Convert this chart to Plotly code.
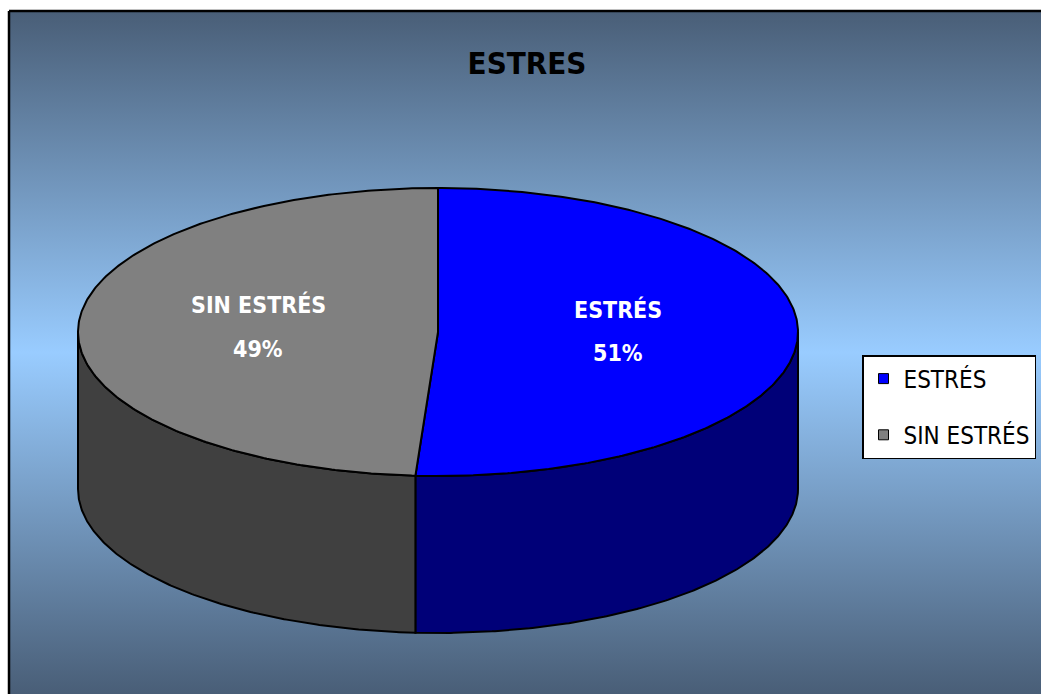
import numpy as np
import plotly.graph_objects as go

# Survey split
categories = ["ESTRÉS", "SIN ESTRÉS"]
values = [51, 49]
top_colors = ["#0000ff", "#808080"]
side_colors = ["#000078", "#404040"]
title_text = "ESTRES"

W, H = 1041, 694
FONT = "DejaVu Sans Condensed, Liberation Sans, sans-serif"

# 3D pie geometry (pixel space)
cx, cy = 438.0, 332.0
rx, ry = 360.0, 144.0
depth = 157.0


def rim(theta_deg, dy=0.0):
    t = np.radians(theta_deg)
    return cx + rx * np.sin(t), cy - ry * np.cos(t) + dy


fig = go.Figure()

# chart-area background with vertical gradient
fig.add_trace(go.Scatter(
    x=[9, 1050, 1050, 9, 9], y=[11, 11, 710, 710, 11],
    mode="lines", fill="toself",
    fillgradient=dict(type="vertical", start=11, stop=694,
                      colorscale=[[0, "#495e77"], [0.5, "#99ccff"], [1, "#495e77"]]),
    line=dict(color="black", width=2.5),
    hoverinfo="skip", showlegend=False,
))

total = float(sum(values))
bounds = np.concatenate([[0.0], np.cumsum(values) / total * 360.0])

# side walls (only the front half, 90..270 deg, is visible)
for i in range(len(values)):
    a0, a1 = max(bounds[i], 90.0), min(bounds[i + 1], 270.0)
    if a1 <= a0:
        continue
    th = np.linspace(a0, a1, 200)
    xt, yt = rim(th)
    xb, yb = rim(th[::-1], depth)
    fig.add_trace(go.Scatter(
        x=np.concatenate([xt, xb, xt[:1]]), y=np.concatenate([yt, yb, yt[:1]]),
        mode="lines", fill="toself", fillcolor=side_colors[i],
        line=dict(color="black", width=2),
        hoverinfo="skip", showlegend=False,
    ))

# top faces
for i in range(len(values)):
    th = np.linspace(bounds[i], bounds[i + 1], 300)
    xa, ya = rim(th)
    fig.add_trace(go.Scatter(
        x=np.concatenate([[cx], xa, [cx]]), y=np.concatenate([[cy], ya, [cy]]),
        mode="lines", fill="toself", fillcolor=top_colors[i],
        line=dict(color="black", width=2),
        hoverinfo="skip", showlegend=False,
    ))

# slice labels at half radius on the mid angle
for i, (name, v) in enumerate(zip(categories, values)):
    mid = (bounds[i] + bounds[i + 1]) / 2.0
    t = np.radians(mid)
    lx = cx + 0.5 * rx * np.sin(t)
    ly = cy - 0.5 * ry * np.cos(t)
    pct = round(v / total * 100)
    for txt, off in ((name, -25), (f"{pct}%", 19)):
        fig.add_annotation(
            x=lx, y=ly + off, text=txt, showarrow=False,
            xanchor="center", yanchor="middle",
            font=dict(family=FONT, size=23, color="white", weight="bold"),
        )

# legend entries
for i, name in enumerate(categories):
    fig.add_trace(go.Scatter(
        x=[None], y=[None], mode="markers", name=name, legendgroup=name,
        marker=dict(symbol="square", size=10, color=top_colors[i],
                    line=dict(color="black", width=1)),
    ))

fig.update_layout(
    width=W, height=H,
    margin=dict(l=0, r=0, t=0, b=0, autoexpand=False),
    paper_bgcolor="white", plot_bgcolor="white",
    xaxis=dict(range=[0, W], visible=False, fixedrange=True),
    yaxis=dict(range=[H, 0], visible=False, fixedrange=True),
    title=dict(text=title_text, x=527 / W, xanchor="center",
               y=1 - 63 / H, yanchor="middle",
               font=dict(family=FONT, size=31, color="black", weight="bold")),
    legend=dict(
        x=862 / W, y=1 - 355 / H, xanchor="left", yanchor="top",
        bgcolor="white", bordercolor="black", borderwidth=1.5,
        font=dict(family=FONT, size=24, color="black"),
        tracegroupgap=22, itemwidth=30,
    ),
    showlegend=True,
)

fig.write_html("out.html")
